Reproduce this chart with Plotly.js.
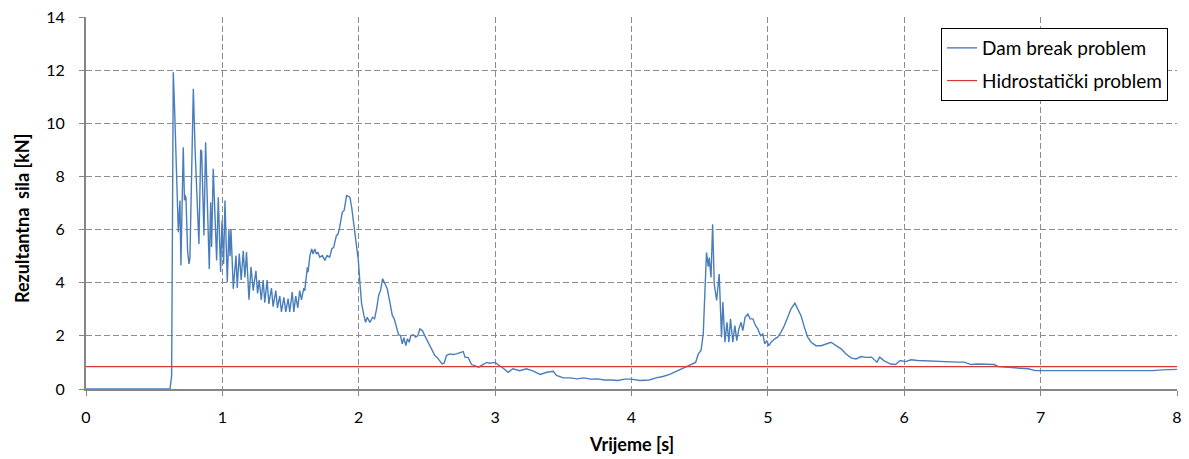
<!DOCTYPE html>
<html>
<head>
<meta charset="utf-8">
<script src="https://cdn.plot.ly/plotly-3.0.1.min.js"></script>
<style>html,body{margin:0;padding:0;background:#fff;}#chart{width:1189px;height:459px;}</style>
</head>
<body>
<div id="chart"></div>
<script>
const damT = [0,0.616,0.628,0.634,0.640,0.650,0.677,0.689,0.696,0.713,0.722,0.726,0.733,0.745,0.755,0.762,0.787,0.800,0.828,0.841,0.848,0.865,0.877,0.904,0.914,0.921,0.933,0.958,0.970,0.987,0.997,1.009,1.019,1.036,1.048,1.056,1.063,1.080,1.100,1.109,1.124,1.138,1.153,1.165,1.177,1.195,1.210,1.226,1.246,1.258,1.270,1.285,1.299,1.311,1.328,1.341,1.360,1.372,1.392,1.404,1.421,1.433,1.451,1.465,1.482,1.494,1.512,1.524,1.538,1.553,1.567,1.580,1.597,1.604,1.623,1.628,1.642,1.655,1.665,1.677,1.690,1.700,1.714,1.734,1.751,1.768,1.787,1.802,1.816,1.836,1.848,1.860,1.879,1.893,1.911,1.935,1.948,1.965,1.985,1.997,2.009,2.021,2.038,2.050,2.062,2.082,2.101,2.116,2.131,2.146,2.160,2.175,2.192,2.209,2.228,2.246,2.260,2.277,2.292,2.306,2.319,2.331,2.345,2.357,2.370,2.382,2.399,2.418,2.433,2.448,2.467,2.484,2.509,2.533,2.558,2.575,2.594,2.611,2.626,2.643,2.667,2.692,2.716,2.741,2.766,2.780,2.802,2.827,2.860,2.880,2.910,2.940,2.960,3.000,3.030,3.050,3.096,3.130,3.180,3.230,3.280,3.330,3.380,3.426,3.450,3.500,3.550,3.600,3.650,3.700,3.750,3.800,3.850,3.900,3.950,4.000,4.060,4.130,4.180,4.230,4.280,4.330,4.380,4.430,4.470,4.490,4.510,4.526,4.538,4.550,4.563,4.570,4.583,4.595,4.607,4.624,4.643,4.660,4.670,4.685,4.700,4.714,4.726,4.743,4.758,4.772,4.787,4.804,4.816,4.833,4.853,4.870,4.890,4.909,4.926,4.946,4.963,4.977,4.992,5.007,5.024,5.048,5.072,5.097,5.121,5.146,5.170,5.198,5.219,5.243,5.268,5.292,5.317,5.353,5.390,5.427,5.463,5.500,5.537,5.573,5.610,5.646,5.683,5.720,5.760,5.800,5.820,5.850,5.900,5.936,5.970,6.010,6.050,6.100,6.170,6.240,6.320,6.390,6.440,6.490,6.540,6.610,6.660,6.690,6.760,6.830,6.910,6.960,7.030,7.130,7.200,7.280,7.370,7.450,7.550,7.650,7.750,7.820,7.890,8.000];
const damV = [0,0,0.5,6,11.92,10.5,5.9,7.09,4.65,9.1,7.1,7.3,7.2,5.2,4.71,4.9,11.3,9.0,5.46,8.98,8.96,5.78,9.29,4.52,7.03,5.34,8.29,4.84,7.22,4.40,6.34,4.71,7.09,4.02,6.03,5.0,6.0,3.77,5.02,3.8,5.1,4.1,5.2,4.2,5.15,3.36,4.6,3.7,4.45,3.6,4.1,3.35,4.1,3.25,4.1,3.2,3.8,3.1,3.7,3.05,3.5,2.9,3.45,2.9,3.4,2.9,3.65,2.9,3.5,3.05,3.7,3.35,3.8,3.7,4.58,4.4,5.02,5.27,5.08,5.27,5.08,5.15,4.96,5.02,4.84,5.02,4.96,5.27,5.33,5.77,5.83,6.08,6.65,6.72,7.28,7.22,6.84,6.09,5.2,4.84,3.96,3.21,2.77,2.51,2.70,2.51,2.70,2.64,3.02,3.52,3.71,4.15,3.96,3.77,3.27,2.77,2.64,2.32,2.04,2.01,1.70,1.93,1.63,1.89,1.76,2.01,2.04,1.95,2.01,2.26,2.19,2.01,1.76,1.51,1.26,1.19,1.07,0.94,0.97,1.26,1.32,1.30,1.32,1.38,1.41,1.19,1.19,0.92,0.85,0.82,0.92,1.0,0.97,1.0,0.88,0.82,0.63,0.76,0.69,0.76,0.67,0.55,0.63,0.67,0.51,0.42,0.42,0.38,0.42,0.37,0.38,0.34,0.34,0.32,0.37,0.37,0.32,0.34,0.42,0.47,0.55,0.67,0.76,0.88,1.0,1.32,1.45,2.07,3.33,5.14,4.6,4.95,4.2,6.2,3.94,3.33,4.33,1.95,3.27,1.76,2.51,1.76,2.64,1.76,2.39,1.82,2.26,2.51,2.20,2.70,2.82,2.64,2.64,2.39,2.26,2.01,2.07,1.70,1.82,1.63,1.76,1.88,1.95,2.14,2.39,2.70,3.02,3.23,3.02,2.76,2.32,1.95,1.76,1.63,1.63,1.70,1.76,1.63,1.51,1.32,1.17,1.13,1.22,1.19,1.2,1.01,1.2,1.07,0.94,0.92,1.07,1.03,1.1,1.07,1.05,1.03,1.03,1.01,1.01,0.92,0.94,0.94,0.92,0.84,0.82,0.79,0.76,0.69,0.69,0.69,0.67,0.69,0.69,0.67,0.67,0.67,0.67,0.69,0.72,0.74];
const hydroT = [0, 8];
const hydroV = [0.84, 0.84];
const seriesNames = ["Dam break problem", "Hidrostatički problem"];
const xTitle = "Vrijeme [s]";
const yTitle = "Rezultantna&nbsp; sila [kN]";

const font = "Lato, 'Open Sans', sans-serif";
const traces = [
  {x: damT, y: damV, type: "scatter", mode: "lines", name: seriesNames[0], legendgroup: "a",
   line: {color: "#4a7ebb", width: 1.4}},
  {x: hydroT, y: hydroV, type: "scatter", mode: "lines", name: seriesNames[1], legendgroup: "b",
   line: {color: "#d33b3b", width: 1.2}}
];
const axisCommon = {
  showline: true, linecolor: "#868686", linewidth: 2,
  ticks: "outside", ticklen: 5, tickcolor: "#868686", tickwidth: 1,
  showgrid: true, gridcolor: "#8c8c8c", griddash: "6px,3px", gridwidth: 1,
  zeroline: false, tickfont: {family: font, size: 16, color: "#000"}
};
const layout = {
  width: 1189, height: 459,
  margin: {l: 86, r: 12, t: 17, b: 70},
  paper_bgcolor: "#fff", plot_bgcolor: "#fff",
  showlegend: true,
  legend: {x: 0.9918, y: 0.9704, xanchor: "right", yanchor: "top",
    bordercolor: "#000", borderwidth: 1, bgcolor: "#fff",
    traceorder: "grouped", tracegroupgap: 5,
    font: {family: font, size: 19, color: "#000"}},
  xaxis: Object.assign({}, axisCommon, {range: [0, 8], dtick: 1, tick0: 0, ticklabelstandoff: 8}),
  yaxis: Object.assign({}, axisCommon, {range: [0, 14], dtick: 2, tick0: 0, ticklabelstandoff: 11}),
  annotations: [
    {text: "<b>" + xTitle + "</b>", xref: "paper", yref: "paper", x: 0.5, y: 0,
     xanchor: "center", yanchor: "middle", yshift: -55, showarrow: false,
     font: {family: font, size: 18, color: "#000"}},
    {text: "<b>" + yTitle + "</b>", xref: "paper", yref: "paper", x: 0, y: 0.5,
     xanchor: "center", yanchor: "middle", xshift: -64, yshift: -16, textangle: -90, showarrow: false,
     font: {family: font, size: 18, color: "#000"}}
  ]
};
Plotly.newPlot("chart", traces, layout, {displayModeBar: false, staticPlot: true});
</script>
</body>
</html>
